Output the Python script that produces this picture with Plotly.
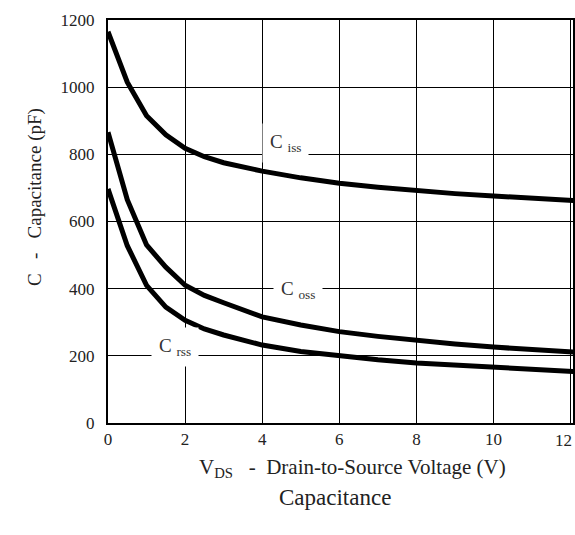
import plotly.graph_objects as go

vds = [0, 0.5, 1, 1.5, 2, 2.5, 3, 4, 5, 6, 7, 8, 9, 10, 11, 12.1]
ciss = [1165, 1015, 915, 858, 818, 793, 775, 750, 730, 714, 702, 692, 683, 676, 668, 662]
coss = [866, 665, 530, 464, 410, 380, 358, 316, 292, 272, 258, 246, 235, 226, 218, 211]
crss = [697, 528, 410, 345, 306, 280, 262, 232, 213, 199, 188, 179, 172, 166, 159, 153]

x_ticks = [0, 2, 4, 6, 8, 10, 12]
x_labels = ["0", "2", "4", "6", "8", "10", "12"]
y_ticks = [0, 200, 400, 600, 800, 1000, 1200]

FONT = "Liberation Serif, DejaVu Serif, serif"
TXT = "#222"

fig = go.Figure()
for name, ys in [("Ciss", ciss), ("Coss", coss), ("Crss", crss)]:
    fig.add_trace(go.Scatter(x=vds, y=ys, mode="lines", name=name,
                             line=dict(color="black", width=5),
                             showlegend=False, hoverinfo="skip"))

labels = [("C <sub>iss</sub>", 4.6, 835), ("C <sub>oss</sub>", 4.92, 395), ("C <sub>rss</sub>", 1.74, 226)]
for txt, x, y in labels:
    fig.add_annotation(x=x, y=y, text=txt, showarrow=False, bgcolor="white",
                       borderpad=7, font=dict(family=FONT, size=19, color="#333"))

PW, PH = 465, 403  # plot area size in px
fig.add_annotation(x=0.525, y=-45 / PH, xref="paper", yref="paper", yanchor="middle",
                   text="V<sub>DS</sub>   -  Drain-to-Source Voltage (V)", showarrow=False,
                   font=dict(family=FONT, size=21, color=TXT))
fig.add_annotation(x=0.488, y=-74 / PH, xref="paper", yref="paper", yanchor="middle",
                   text="Capacitance", showarrow=False,
                   font=dict(family=FONT, size=23, color=TXT))
fig.add_annotation(x=-73 / PW, y=0.561, xref="paper", yref="paper",
                   xanchor="center", yanchor="middle", textangle=-90,
                   text="C   -   Capacitance (pF)", showarrow=False,
                   font=dict(family=FONT, size=19, color=TXT))

# last x tick label sits flush with the right border, as in the reference
fig.add_annotation(x=1, xref="paper", y=0, yref="paper", xanchor="right", yanchor="top",
                   xshift=1, yshift=-6, text=x_labels[-1], showarrow=False,
                   font=dict(family=FONT, size=17, color=TXT))

axis_common = dict(showline=True, linecolor="black", linewidth=2, mirror=True,
                   showgrid=True, gridcolor="black", gridwidth=1.3, zeroline=False,
                   ticks="", tickfont=dict(family=FONT, size=17, color=TXT),
                   automargin=False)

fig.update_xaxes(range=[0, 12.06], tickvals=x_ticks, ticktext=x_labels[:-1] + [""],
                 ticklabelstandoff=0, **axis_common)
fig.update_yaxes(range=[0, 1200], tickvals=y_ticks, ticklabelstandoff=8, **axis_common)

fig.update_layout(width=575, height=535, margin=dict(l=108, r=2, t=20, b=112),
                  plot_bgcolor="white", paper_bgcolor="white")

fig.write_html("out.html", config={"displayModeBar": False},
               post_script="document.body.style.margin='0';document.body.style.overflow='hidden';")
